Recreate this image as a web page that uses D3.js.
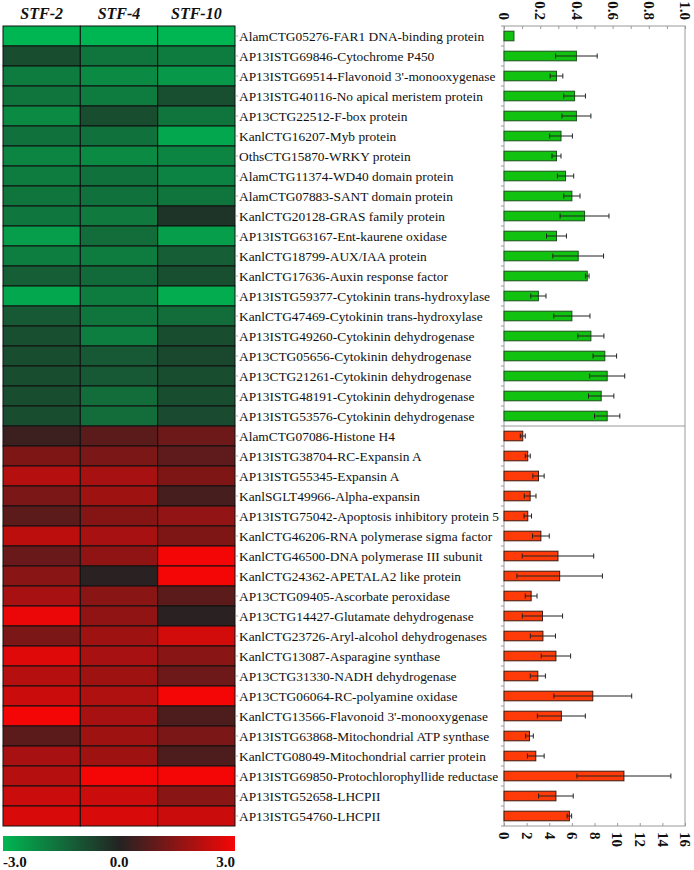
<!DOCTYPE html>
<html>
<head>
<meta charset="utf-8">
<script src="https://cdn.jsdelivr.net/npm/d3@7"></script>
<style>
html,body{margin:0;padding:0;background:#fff;}
svg{display:block;}
</style>
</head>
<body>
<svg id="chart" width="694" height="870"></svg>
<script>
const genes = [
"AlamCTG05276-FAR1 DNA-binding protein",
"AP13ISTG69846-Cytochrome P450",
"AP13ISTG69514-Flavonoid 3'-monooxygenase",
"AP13ISTG40116-No apical meristem protein",
"AP13CTG22512-F-box protein",
"KanlCTG16207-Myb protein",
"OthsCTG15870-WRKY protein",
"AlamCTG11374-WD40 domain protein",
"AlamCTG07883-SANT domain protein",
"KanlCTG20128-GRAS family protein",
"AP13ISTG63167-Ent-kaurene oxidase",
"KanlCTG18799-AUX/IAA protein",
"KanlCTG17636-Auxin response factor",
"AP13ISTG59377-Cytokinin trans-hydroxylase",
"KanlCTG47469-Cytokinin trans-hydroxylase",
"AP13ISTG49260-Cytokinin dehydrogenase",
"AP13CTG05656-Cytokinin dehydrogenase",
"AP13CTG21261-Cytokinin dehydrogenase",
"AP13ISTG48191-Cytokinin dehydrogenase",
"AP13ISTG53576-Cytokinin dehydrogenase",
"AlamCTG07086-Histone H4",
"AP13ISTG38704-RC-Expansin A",
"AP13ISTG55345-Expansin A",
"KanlSGLT49966-Alpha-expansin",
"AP13ISTG75042-Apoptosis inhibitory protein 5",
"KanlCTG46206-RNA polymerase sigma factor",
"KanlCTG46500-DNA polymerase III subunit",
"KanlCTG24362-APETALA2 like protein",
"AP13CTG09405-Ascorbate peroxidase",
"AP13CTG14427-Glutamate dehydrogenase",
"KanlCTG23726-Aryl-alcohol dehydrogenases",
"KanlCTG13087-Asparagine synthase",
"AP13CTG31330-NADH dehydrogenase",
"AP13CTG06064-RC-polyamine oxidase",
"KanlCTG13566-Flavonoid 3'-monooxygenase",
"AP13ISTG63868-Mitochondrial ATP synthase",
"KanlCTG08049-Mitochondrial carrier protein",
"AP13ISTG69850-Protochlorophyllide reductase",
"AP13ISTG52658-LHCPII",
"AP13ISTG54760-LHCPII"
];
const samples = ["STF-2", "STF-4", "STF-10"];

// heatmap log2 values per sample (rows follow genes)
const stf2 = [-3,-0.85,-1.8,-1.65,-2.1,-1.6,-2.0,-1.8,-1.65,-1.7,-2.5,-1.85,-1.2,-2.7,-1.1,-0.9,-0.85,-0.85,-0.85,-0.85,
  0.35,1.3,2.1,1.25,0.8,2.2,1.0,1.45,1.9,2.85,1.25,2.7,2.1,2.4,3.0,0.8,1.9,2.1,2.4,2.6];
const stf4 = [-3,-1.65,-2.1,-1.8,-0.85,-1.6,-2.1,-1.6,-1.6,-1.75,-1.5,-1.8,-1.45,-1.8,-1.65,-1.85,-1.1,-1.1,-1.5,-1.5,
  0.8,1.25,1.9,1.75,1.4,1.9,1.55,0.1,1.45,1.55,1.75,1.9,1.75,2.0,1.9,1.75,1.75,3.0,2.4,2.6];
const stf10 = [-3,-1.8,-2.4,-0.9,-1.65,-2.7,-2.0,-1.95,-1.65,-0.35,-2.5,-1.2,-0.9,-2.8,-1.5,-0.85,-0.75,-0.85,-0.85,-0.8,
  1.05,0.85,1.3,0.5,1.6,1.3,3.0,3.0,0.8,0.1,2.5,1.45,1.05,3.0,0.6,1.25,0.6,3.0,1.45,2.4];

// bar values (down-regulated set, top axis 0-1.0)
const downVals = [0.055,0.40,0.29,0.39,0.40,0.315,0.29,0.34,0.375,0.445,0.29,0.41,0.46,0.19,0.375,0.48,0.557,0.57,0.537,0.57];
const downErr  = [0,0.115,0.035,0.06,0.08,0.063,0.025,0.045,0.045,0.135,0.055,0.14,0.01,0.042,0.10,0.072,0.065,0.097,0.07,0.07];
// bar values (up-regulated set, bottom axis 0-16)
const upVals = [1.66,2.1,3.05,2.31,2.1,3.26,4.77,4.92,2.4,3.4,3.44,4.59,2.99,7.85,5.07,2.25,2.81,10.6,4.59,5.78];
const upErr  = [0.22,0.22,0.5,0.52,0.33,0.74,3.16,3.78,0.52,1.78,1.11,1.3,0.67,3.44,2.12,0.34,0.74,4.15,1.53,0.2];

const topTicks = [0,0.1,0.2,0.3,0.4,0.5,0.6,0.7,0.8,0.9,1.0];
const topLabels = [0,0.2,0.4,0.6,0.8,1.0];
const bottomTicks = [0,2,4,6,8,10,12,14,16];
const legendLabels = ["-3.0","0.0","3.0"];

const svg = d3.select("#chart");
const serif = "'Liberation Serif','Times New Roman',serif";

const heatX0 = 3, heatX1 = 235, plotTop = 26, plotBottom = 826;
const barX0 = 504, barX1 = 685;

const color = d3.scaleLinear().domain([-3,0,3]).range(["#00b652","#232323","#f50606"]).clamp(true);

const yRow = d3.scaleBand().domain(d3.range(genes.length)).range([plotTop, plotBottom]);
const xCol = d3.scaleBand().domain(samples).range([heatX0, heatX1]);

// headers
svg.append("g").selectAll("text").data(samples).join("text")
  .attr("x", d => xCol(d) + xCol.bandwidth()/2)
  .attr("y", 19)
  .attr("text-anchor","middle")
  .attr("font-family", serif)
  .attr("font-weight","bold").attr("font-style","italic")
  .attr("font-size", 16).attr("fill","#111")
  .text(d => d);

// heatmap cells
const cols = [stf2, stf4, stf10];
const cells = [];
cols.forEach((arr, c) => arr.forEach((v, r) => cells.push({c: samples[c], r, v})));
svg.append("g").selectAll("rect").data(cells).join("rect")
  .attr("x", d => xCol(d.c)).attr("y", d => yRow(d.r))
  .attr("width", xCol.bandwidth()).attr("height", yRow.bandwidth())
  .attr("fill", d => color(d.v))
  .attr("stroke", "#111").attr("stroke-width", 1);

// little ticks right of heatmap
svg.append("g").selectAll("line").data(d3.range(genes.length)).join("line")
  .attr("x1", heatX1 + 1).attr("x2", heatX1 + 3)
  .attr("y1", d => yRow(d) + yRow.bandwidth()/2).attr("y2", d => yRow(d) + yRow.bandwidth()/2)
  .attr("stroke", "#aaa");

// bar chart frame
const xTop = d3.scaleLinear().domain([0,1]).range([barX0, barX1]);
const xBot = d3.scaleLinear().domain([0,16]).range([barX0, barX1]);
const yBar = d3.scaleBand().domain(d3.range(genes.length)).range([plotTop, plotBottom]).paddingInner(0.52).paddingOuter(0.26);

svg.append("rect").attr("x", barX0).attr("y", plotTop).attr("width", barX1 - barX0).attr("height", plotBottom - plotTop)
  .attr("fill", "none").attr("stroke", "#9a9a9a").attr("stroke-width", 1);
svg.append("line").attr("x1", barX0).attr("x2", barX1).attr("y1", yRow(20)).attr("y2", yRow(20))
  .attr("stroke", "#9a9a9a");

// left ticks at row boundaries
svg.append("g").selectAll("line").data(d3.range(genes.length + 1)).join("line")
  .attr("x1", barX0 - 3).attr("x2", barX0)
  .attr("y1", d => plotTop + d * yRow.step()).attr("y2", d => plotTop + d * yRow.step())
  .attr("stroke", "#9a9a9a");

// top axis
const gTop = svg.append("g").attr("transform", `translate(0,${plotTop})`)
  .call(d3.axisTop(xTop).tickValues(topTicks).tickSizeInner(-3).tickSizeOuter(0)
    .tickFormat(d => topLabels.some(l => Math.abs(l - d) < 1e-9) ? (d === 0 ? "0" : d3.format(".1f")(d)) : ""));
gTop.select(".domain").remove();
gTop.selectAll("line").attr("stroke", "#9a9a9a");
gTop.selectAll("text")
  .attr("transform", "rotate(90)").attr("x", -6).attr("y", 0).attr("dy", "0.35em")
  .attr("text-anchor", "end")
  .attr("font-family", serif).attr("font-size", 15).attr("font-weight", "bold").attr("fill", "#111");

// bottom axis
const gBot = svg.append("g").attr("transform", `translate(0,${plotBottom})`)
  .call(d3.axisBottom(xBot).tickValues(bottomTicks).tickSizeInner(-3).tickSizeOuter(0).tickFormat(d3.format("d")));
gBot.select(".domain").remove();
gBot.selectAll("line").attr("stroke", "#9a9a9a");
gBot.selectAll("text")
  .attr("transform", "rotate(90)").attr("x", 6).attr("y", 0).attr("dy", "0.35em")
  .attr("text-anchor", "start")
  .attr("font-family", serif).attr("font-size", 15).attr("font-weight", "bold").attr("fill", "#111");

// bars
const barData = downVals.map((v,i) => ({i, v, e: downErr[i], sc: xTop, fill: "#11c211", stroke: "#1d4f1d"}))
  .concat(upVals.map((v,i) => ({i: i + 20, v, e: upErr[i], sc: xBot, fill: "#ff3b0a", stroke: "#3a1a12"})));

svg.append("g").selectAll("rect").data(barData).join("rect")
  .attr("x", d => d.sc(0)).attr("y", d => yBar(d.i))
  .attr("width", d => d.sc(d.v) - d.sc(0)).attr("height", yBar.bandwidth())
  .attr("fill", d => d.fill).attr("stroke", d => d.stroke).attr("stroke-width", 1);

const eb = svg.append("g").selectAll("g").data(barData.filter(d => d.e > 0)).join("g")
  .attr("stroke", "#222").attr("stroke-width", 1);
eb.append("line")
  .attr("x1", d => d.sc(d.v - d.e)).attr("x2", d => d.sc(d.v + d.e))
  .attr("y1", d => yBar(d.i) + yBar.bandwidth()/2).attr("y2", d => yBar(d.i) + yBar.bandwidth()/2);
eb.append("line")
  .attr("x1", d => d.sc(d.v - d.e)).attr("x2", d => d.sc(d.v - d.e))
  .attr("y1", d => yBar(d.i) + yBar.bandwidth()/2 - 2.5).attr("y2", d => yBar(d.i) + yBar.bandwidth()/2 + 2.5);
eb.append("line")
  .attr("x1", d => d.sc(d.v + d.e)).attr("x2", d => d.sc(d.v + d.e))
  .attr("y1", d => yBar(d.i) + yBar.bandwidth()/2 - 2.5).attr("y2", d => yBar(d.i) + yBar.bandwidth()/2 + 2.5);

// gene labels
svg.append("g").selectAll("text").data(genes).join("text")
  .attr("x", 239)
  .attr("y", (d,i) => yRow(i) + yRow.bandwidth()/2)
  .attr("dy", "0.35em")
  .attr("font-family", serif).attr("font-size", 13.4).attr("fill", "#111")
  .text(d => d);

// legend
const defs = svg.append("defs");
const grad = defs.append("linearGradient").attr("id", "lg").attr("x1", "0%").attr("x2", "100%");
const legStops = d3.range(-3, 3.01, 0.5);
grad.selectAll("stop").data(legStops).join("stop")
  .attr("offset", d => ((d + 3) / 6 * 100) + "%")
  .attr("stop-color", d => color(d));
svg.append("rect").attr("x", heatX0).attr("y", 836).attr("width", heatX1 - heatX0).attr("height", 15)
  .attr("fill", "url(#lg)");
const legScale = d3.scalePoint().domain(legendLabels).range([heatX0, heatX1]);
svg.append("g").selectAll("text").data(legendLabels).join("text")
  .attr("x", d => legScale(d)).attr("y", 867)
  .attr("text-anchor", (d,i) => i === 0 ? "start" : (i === 2 ? "end" : "middle"))
  .attr("font-family", serif).attr("font-size", 15).attr("font-weight", "bold").attr("fill", "#111")
  .text(d => d);
</script>
</body>
</html>
